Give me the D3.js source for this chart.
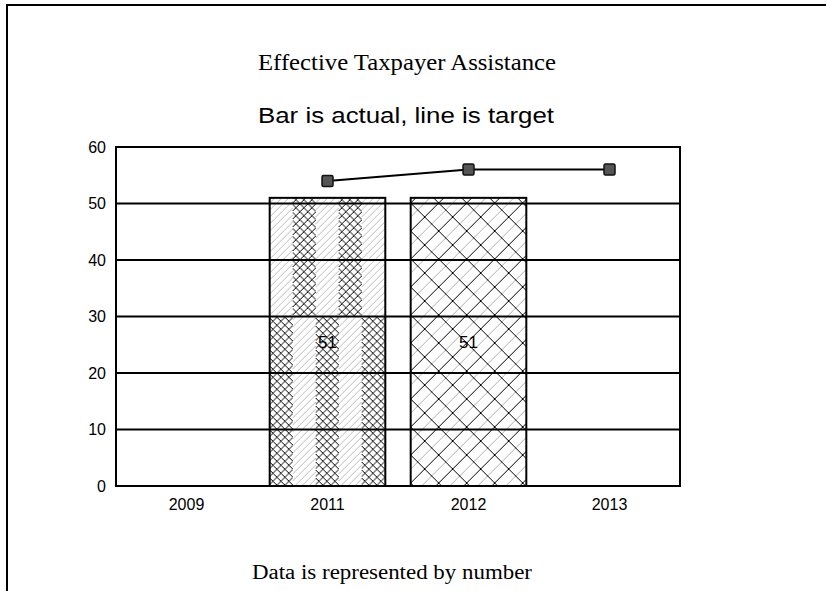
<!DOCTYPE html>
<html>
<head>
<meta charset="utf-8">
<script src="https://cdn.jsdelivr.net/npm/d3@7"></script>
<style>
  body { margin: 0; background: #fff; }
  svg { display: block; }
</style>
</head>
<body>
<svg id="chart"></svg>
<script>
const years = ['2009', '2011', '2012', '2013'];
const actual = [null, 51, 51, null];
const target = [null, 54, 56, 56];
const yTicks = [0, 10, 20, 30, 40, 50, 60];

const W = 826, H = 591;
const svg = d3.select('#chart').attr('width', W).attr('height', H);
svg.selectAll('*').remove();

const margin = { top: 147, right: 146, bottom: 105, left: 116 };
const width = W - margin.left - margin.right;
const height = H - margin.top - margin.bottom;

const serif = '"Liberation Serif", "Times New Roman", serif';
const sans = '"Liberation Sans", Arial, sans-serif';

// outer frame (top and left only)
svg.append('line').attr('x1', 6).attr('x2', W).attr('y1', 5).attr('y2', 5)
  .attr('stroke', '#000').attr('stroke-width', 2);
svg.append('line').attr('x1', 7).attr('x2', 7).attr('y1', 5).attr('y2', H)
  .attr('stroke', '#000').attr('stroke-width', 2);

svg.append('text').attr('x', 407).attr('y', 70).attr('text-anchor', 'middle')
  .style('font-family', serif).style('font-size', '24px')
  .attr('textLength', 298).attr('lengthAdjust', 'spacingAndGlyphs')
  .text('Effective Taxpayer Assistance');
svg.append('text').attr('x', 406).attr('y', 123).attr('text-anchor', 'middle')
  .style('font-family', sans).style('font-size', '22px')
  .attr('textLength', 296).attr('lengthAdjust', 'spacingAndGlyphs')
  .text('Bar is actual, line is target');
svg.append('text').attr('x', 392).attr('y', 579).attr('text-anchor', 'middle')
  .style('font-family', serif).style('font-size', '20px')
  .attr('textLength', 280).attr('lengthAdjust', 'spacingAndGlyphs')
  .text('Data is represented by number');

const g = svg.append('g').attr('transform', `translate(${margin.left},${margin.top})`);

const x = d3.scaleBand().domain(years).range([0, width]).paddingInner(0.18).paddingOuter(0.09);
const y = d3.scaleLinear().domain([0, 60]).range([height, 0]);

// patterns (userSpaceOnUse -> coordinates of the plot group)
const defs = svg.append('defs');
function crossLines(sel, w, h, step, color, sw) {
  for (let k = -h; k < w + h; k += step) {
    sel.append('line').attr('x1', k).attr('y1', h).attr('x2', k + h).attr('y2', 0)
      .attr('stroke', color).attr('stroke-width', sw);
    sel.append('line').attr('x1', k).attr('y1', 0).attr('x2', k + h).attr('y2', h)
      .attr('stroke', color).attr('stroke-width', sw);
  }
}
function diagLines(sel, w, h, step, color, sw) {
  for (let k = -h; k < w + h; k += step) {
    sel.append('line').attr('x1', k).attr('y1', h).attr('x2', k + h).attr('y2', 0)
      .attr('stroke', color).attr('stroke-width', sw);
  }
}

// 2011: columns of fine crosshatch alternating with light diagonals, shifted above 30
const split = y(30);
const p1 = defs.append('pattern').attr('id', 'pat2011').attr('patternUnits', 'userSpaceOnUse')
  .attr('x', x('2011')).attr('y', 0).attr('width', 46).attr('height', height);
p1.append('rect').attr('width', 46).attr('height', height).attr('fill', '#fff');
p1.append('g').call(s => diagLines(s, 46, height, 7, '#aaa', 0.8));
const crossTop = p1.append('svg').attr('x', 23).attr('y', 0).attr('width', 23).attr('height', split);
crossTop.append('rect').attr('width', 23).attr('height', split).attr('fill', '#fff');
crossTop.append('g').call(s => crossLines(s, 23, split, 8, '#000', 1));
const crossBot = p1.append('svg').attr('x', 0).attr('y', split).attr('width', 23).attr('height', height - split);
crossBot.append('rect').attr('width', 23).attr('height', height - split).attr('fill', '#fff');
crossBot.append('g').call(s => crossLines(s, 23, height - split, 8, '#000', 1));

// 2012: wide crosshatch over thin diagonals
const p2 = defs.append('pattern').attr('id', 'pat2012').attr('patternUnits', 'userSpaceOnUse')
  .attr('x', x('2012')).attr('y', 0).attr('width', 56).attr('height', 56);
p2.append('rect').attr('width', 56).attr('height', 56).attr('fill', '#fff');
p2.append('g').call(s => diagLines(s, 56, 56, 14, '#999', 0.8));
p2.append('g').call(s => crossLines(s, 56, 56, 28, '#000', 1));

const fills = { '2011': 'url(#pat2011)', '2012': 'url(#pat2012)' };
const bars = years.map((yr, i) => ({ yr, v: actual[i] })).filter(d => d.v != null);

g.selectAll('rect.bar')
  .data(bars)
  .enter()
  .append('rect')
  .attr('class', 'bar')
  .attr('x', d => x(d.yr))
  .attr('y', d => y(d.v))
  .attr('width', x.bandwidth())
  .attr('height', d => y(0) - y(d.v))
  .attr('fill', d => fills[d.yr] || '#ccc')
  .attr('stroke', '#000')
  .attr('stroke-width', 2);

// gridlines
g.selectAll('line.grid')
  .data(yTicks)
  .enter()
  .append('line')
  .attr('class', 'grid')
  .attr('x1', 0).attr('x2', width)
  .attr('y1', d => y(d)).attr('y2', d => y(d))
  .attr('stroke', '#000')
  .attr('stroke-width', 2.2);

// plot border
g.append('rect').attr('width', width).attr('height', height)
  .attr('fill', 'none').attr('stroke', '#000').attr('stroke-width', 2);

// bar labels
g.selectAll('text.val')
  .data(bars)
  .enter()
  .append('text')
  .attr('class', 'val')
  .attr('x', d => x(d.yr) + x.bandwidth() / 2)
  .attr('y', d => (y(d.v) + y(0)) / 2)
  .attr('dy', '.35em')
  .attr('text-anchor', 'middle')
  .style('font-family', sans)
  .style('font-size', '17px')
  .text(d => d.v);

// target line
const pts = years.map((yr, i) => ({ yr, v: target[i] })).filter(d => d.v != null);
const line = d3.line()
  .x(d => x(d.yr) + x.bandwidth() / 2)
  .y(d => y(d.v));
g.append('path')
  .datum(pts)
  .attr('fill', 'none')
  .attr('stroke', '#000')
  .attr('stroke-width', 2)
  .attr('d', line);
g.selectAll('rect.mk')
  .data(pts)
  .enter()
  .append('rect')
  .attr('class', 'mk')
  .attr('x', d => x(d.yr) + x.bandwidth() / 2 - 5.5)
  .attr('y', d => y(d.v) - 5.5)
  .attr('width', 11).attr('height', 11)
  .attr('rx', 1.5)
  .attr('fill', '#555')
  .attr('stroke', '#111')
  .attr('stroke-width', 1.5);

// axes
const yAxis = g.append('g')
  .call(d3.axisLeft(y).tickValues(yTicks).tickSize(0).tickPadding(10));
yAxis.select('.domain').remove();
yAxis.selectAll('text')
  .style('font-family', sans)
  .style('font-size', '16px').attr('fill', '#000');

const xAxis = g.append('g')
  .attr('transform', `translate(0,${height})`)
  .call(d3.axisBottom(x).tickSize(0).tickPadding(13));
xAxis.select('.domain').remove();
xAxis.selectAll('text')
  .style('font-family', sans)
  .style('font-size', '16px').attr('fill', '#000');
</script>
</body>
</html>
